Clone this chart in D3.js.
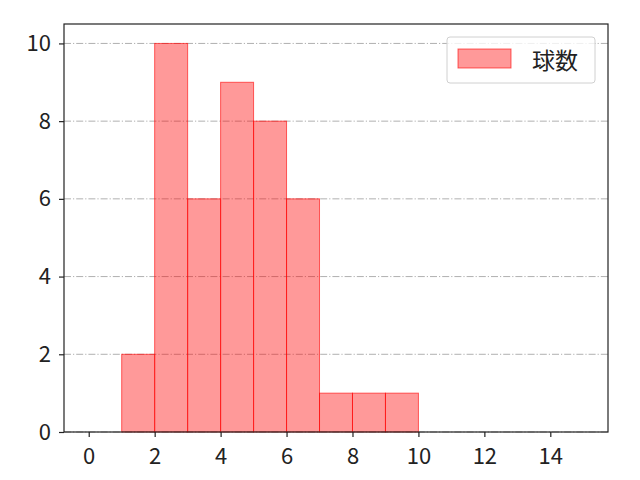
<!DOCTYPE html>
<html>
<head>
<meta charset="utf-8">
<script src="https://cdn.jsdelivr.net/npm/d3@7"></script>
<style>
  body { margin: 0; background: #fff; }
  svg text { font-family: "Noto Sans CJK JP", "DejaVu Sans", sans-serif; }
</style>
</head>
<body>
<div id="chart"></div>
<script>
// histogram bins (left edge, right edge) and counts
const binStarts = [1, 2, 3, 4, 5, 6, 7, 8, 9];
const binEnds = [2, 3, 4, 5, 6, 7, 8, 9, 10];
const counts = [2, 10, 6, 9, 8, 6, 1, 1, 1];
const xTicks = [0, 2, 4, 6, 8, 10, 12, 14];
const yTicks = [0, 2, 4, 6, 8, 10];
const seriesName = "球数";

const W = 640, H = 480;
const margin = {top: 24, right: 32, bottom: 48, left: 64};
const width = W - margin.left - margin.right;
const height = H - margin.top - margin.bottom;

const svg = d3.select("#chart").append("svg")
  .attr("width", W).attr("height", H);

const g = svg.append("g")
  .attr("transform", "translate(" + margin.left + "," + margin.top + ")");

const x = d3.scaleLinear().domain([-0.75, 15.75]).range([0, width]);
const y = d3.scaleLinear().domain([0, 10.5]).range([height, 0]);

// horizontal grid lines
g.append("g").selectAll("line")
  .data(yTicks)
  .enter().append("line")
  .attr("x1", 0).attr("x2", width)
  .attr("y1", d => y(d)).attr("y2", d => y(d))
  .style("stroke", "#b0b0b0")
  .style("stroke-width", 1)
  .style("stroke-dasharray", "7,2,1.2,2");

const bins = binStarts.map((s, i) => ({x0: s, x1: binEnds[i], n: counts[i]}));

// bars
g.append("g").selectAll("rect")
  .data(bins)
  .enter().append("rect")
  .attr("x", d => x(d.x0))
  .attr("y", d => y(d.n))
  .attr("width", d => x(d.x1) - x(d.x0))
  .attr("height", d => y(0) - y(d.n))
  .style("fill", "rgba(255,0,0,0.4)")
  .style("stroke", "rgba(255,0,0,0.6)")
  .style("stroke-width", 1);

// axes
const xAxis = g.append("g")
  .attr("transform", "translate(0," + height + ")")
  .call(d3.axisBottom(x).tickValues(xTicks).tickSize(5).tickPadding(11));
const yAxis = g.append("g")
  .call(d3.axisLeft(y).tickValues(yTicks).tickSize(5).tickPadding(8));

[xAxis, yAxis].forEach(a => {
  a.select(".domain").remove();
  a.selectAll("line").style("stroke", "#222").style("stroke-width", 1.2);
  a.selectAll("text").style("font-size", "22px").style("fill", "#222");
});

// frame
g.append("rect")
  .attr("x", 0).attr("y", 0)
  .attr("width", width).attr("height", height)
  .style("fill", "none")
  .style("stroke", "#222")
  .style("stroke-width", 1.2);

// legend
const leg = g.append("g").attr("transform", "translate(" + (width - 161) + ",13)");
leg.append("rect")
  .attr("x", 0).attr("y", 0)
  .attr("width", 148).attr("height", 46)
  .attr("rx", 3)
  .style("fill", "rgba(255,255,255,0.8)")
  .style("stroke", "#d0d0d0")
  .style("stroke-width", 1);
leg.append("rect")
  .attr("x", 11).attr("y", 12)
  .attr("width", 53).attr("height", 19)
  .style("fill", "rgba(255,0,0,0.4)")
  .style("stroke", "rgba(255,0,0,0.6)");
leg.append("text")
  .attr("x", 85).attr("y", 22)
  .attr("dominant-baseline", "central")
  .style("font-size", "23px")
  .style("fill", "#222")
  .text(seriesName);
</script>
</body>
</html>
